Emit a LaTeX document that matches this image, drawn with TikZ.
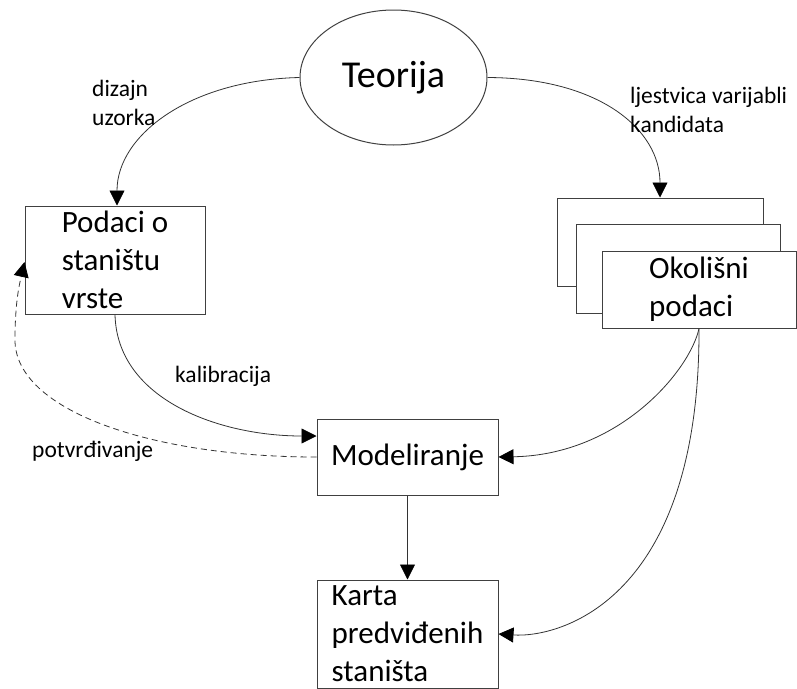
\documentclass[tikz,border=0pt]{standalone}
\usepackage{fontspec}
\setmainfont{Carlito}
\usetikzlibrary{arrows.meta,shapes.geometric}
\begin{document}
\begin{tikzpicture}[x=1pt,y=-1pt,
  line/.style={draw=black!80,line width=0.8pt},
  tip/.style={-{Triangle[length=15pt,width=15pt,fill=black,color=black]}},
  arr/.style={line,tip},
  box/.style={draw=black!75,line width=1pt,fill=white,inner ysep=0pt},
  boxfont/.style={font=\fontsize{31}{38}\selectfont},
  lab/.style={font=\fontsize{23.5}{29}\selectfont,anchor=base west,inner sep=0pt,align=left}]
\useasboundingbox (0,0) rectangle (797,688);
\node[ellipse,draw=black!75,line width=1pt,minimum width=187pt,minimum height=135pt,inner sep=0pt,
  font=\fontsize{38}{42}\selectfont] (teo) at (393.5,77.5) {Teorija};
\node[box,boxfont,minimum width=180pt,minimum height=108pt,align=left]
  (pod) at (115,260) {Podaci o\\staništu\\vrste};
\node[box,minimum width=206pt,minimum height=88pt] (ok1) at (660,242) {};
\node[box,minimum width=204pt,minimum height=89pt] (ok2) at (678,268.5) {};
\node[box,boxfont,minimum width=194pt,minimum height=77pt,align=left]
  (ok3) at (699,289.5) {Okolišni\\podaci};
\node[box,boxfont,minimum width=181pt,minimum height=76pt] (mod) at (407.5,457) {Modeliranje};
\node[box,boxfont,minimum width=181pt,minimum height=108pt,align=left]
  (kar) at (407.5,634) {Karta\\predviđenih\\staništa};
% connectors
\draw[arr] (teo.west) .. controls (190,80) and (117,135) .. ([xshift=2pt]pod.north);
\draw[arr] (teo.east) .. controls (600,78) and (660,130) .. (ok1.north);
\draw[arr] (pod.south) .. controls (117,400) and (220,436) .. ([yshift=21pt]mod.west);
\draw[line,dash pattern=on 6pt off 4pt,tip] (mod.west) .. controls (150,457) and (15,410) .. (15,340)
  .. controls (15,300) and (20,282) .. ([yshift=-2pt]pod.west);
\draw[arr] (ok3.south) .. controls (690,370) and (620,455) .. (mod.east);
\draw[arr] (ok3.south) .. controls (700,600) and (560,638) .. (kar.east);
\draw[arr] (mod.south) -- (kar.north);
% labels
\node[lab] (l1) at (92,125) {dizajn\\uzorka};
\node[lab] (l2) at (630,132) {ljestvica varijabli\\kandidata};
\node[lab] (l3) at (175,382) {kalibracija};
\node[lab] (l4) at (32,457) {potvrđivanje};
\end{tikzpicture}
\end{document}
